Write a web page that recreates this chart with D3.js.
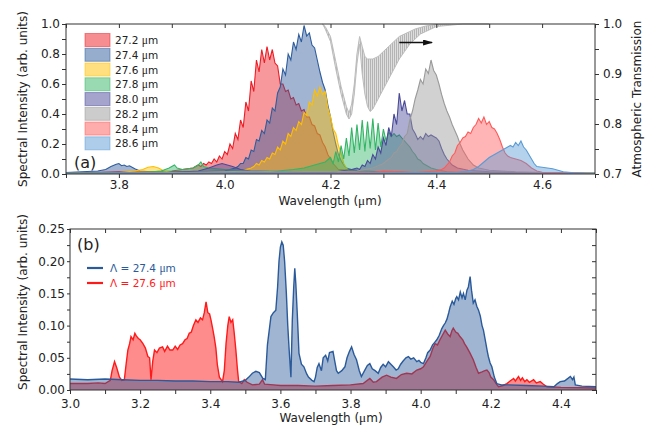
<!DOCTYPE html>
<html>
<head>
<meta charset="utf-8">
<script src="https://cdn.jsdelivr.net/npm/d3@7"></script>
<style>
body { margin: 0; background: #fff; }
text { font-family: "DejaVu Sans", sans-serif; fill: #222; }
</style>
</head>
<body>
<svg width="649" height="430"></svg>
<script>
//*
//* Data
//*

// panel (a): emission spectra, [wavelength um, intensity]
var s272 = [[3.70,0.01],[3.75,0.01],[3.80,0.015],[3.85,0.015],[3.90,0.02],[3.92,0.03],[3.94,0.04],
  [3.950,0.06],[3.955,0.05],[3.960,0.07],[3.965,0.06],[3.970,0.08],[3.975,0.07],[3.980,0.10],[3.985,0.08],
  [3.990,0.12],[3.995,0.10],[4.000,0.15],[4.005,0.13],[4.010,0.20],[4.015,0.17],[4.020,0.27],[4.025,0.23],
  [4.030,0.36],[4.035,0.31],[4.040,0.48],[4.045,0.42],[4.050,0.62],[4.055,0.55],[4.060,0.76],[4.065,0.68],
  [4.070,0.83],[4.075,0.74],[4.080,0.85],[4.085,0.76],[4.090,0.83],[4.095,0.74],[4.100,0.72],[4.105,0.60],
  [4.110,0.60],[4.115,0.55],[4.120,0.56],[4.125,0.50],[4.130,0.51],[4.135,0.46],[4.140,0.47],[4.145,0.42],
  [4.150,0.43],[4.155,0.38],[4.160,0.38],[4.165,0.33],[4.170,0.32],[4.175,0.27],[4.180,0.26],[4.185,0.21],
  [4.190,0.18],[4.195,0.13],[4.200,0.10],[4.205,0.07],[4.210,0.05],[4.215,0.03],[4.220,0.03],
  [4.25,0.02],[4.30,0.015],[4.35,0.01],[4.40,0.01],[4.50,0.008],[4.60,0.005],[4.70,0.005]];

var s274 = [[3.70,0.01],[3.73,0.015],[3.76,0.02],[3.775,0.03],[3.785,0.05],[3.795,0.065],[3.80,0.07],[3.805,0.055],
  [3.81,0.06],[3.815,0.05],[3.82,0.055],[3.83,0.035],[3.84,0.02],[3.86,0.015],[3.90,0.015],[3.95,0.015],
  [4.00,0.02],[4.01,0.03],[4.02,0.04],
  [4.025,0.05],[4.030,0.07],[4.035,0.07],[4.040,0.11],[4.045,0.10],[4.050,0.16],[4.055,0.15],[4.060,0.23],
  [4.065,0.22],[4.070,0.29],[4.075,0.27],[4.080,0.36],[4.085,0.34],[4.090,0.44],[4.095,0.42],[4.100,0.54],
  [4.105,0.58],[4.110,0.70],[4.115,0.66],[4.120,0.80],[4.125,0.76],[4.130,0.88],[4.135,0.83],[4.140,0.93],
  [4.145,0.88],[4.150,0.99],[4.155,0.92],[4.160,0.94],[4.165,0.86],[4.170,0.84],[4.175,0.76],[4.180,0.68],
  [4.185,0.61],[4.190,0.56],[4.195,0.46],[4.200,0.38],[4.205,0.28],[4.210,0.20],[4.215,0.13],[4.220,0.09],
  [4.225,0.06],[4.230,0.04],[4.240,0.03],
  [4.26,0.02],[4.30,0.015],[4.35,0.01],[4.40,0.01],[4.50,0.01],[4.60,0.008],[4.70,0.005]];

var s276 = [[3.70,0.005],[3.80,0.01],[3.83,0.02],[3.845,0.03],[3.855,0.045],[3.865,0.05],[3.875,0.04],[3.885,0.02],
  [3.90,0.01],[3.95,0.01],[4.00,0.015],[4.03,0.02],[4.05,0.04],
  [4.055,0.05],[4.060,0.07],[4.065,0.06],[4.070,0.09],[4.075,0.08],[4.080,0.11],[4.085,0.10],[4.090,0.14],
  [4.095,0.13],[4.100,0.18],[4.105,0.16],[4.110,0.22],[4.115,0.20],[4.120,0.27],[4.125,0.25],[4.130,0.31],
  [4.135,0.29],[4.140,0.35],[4.145,0.33],[4.150,0.41],[4.155,0.39],[4.160,0.48],[4.165,0.46],[4.170,0.56],
  [4.175,0.52],[4.180,0.58],[4.185,0.53],[4.190,0.55],[4.195,0.44],[4.200,0.38],[4.205,0.30],[4.210,0.27],
  [4.215,0.19],[4.220,0.14],[4.225,0.07],[4.230,0.04],[4.235,0.02],
  [4.25,0.015],[4.30,0.01],[4.40,0.008],[4.50,0.005],[4.70,0.005]];

var s278 = [[3.70,0.005],[3.85,0.01],[3.88,0.02],[3.895,0.04],[3.905,0.06],[3.91,0.04],[3.92,0.03],[3.94,0.04],
  [3.95,0.06],[3.955,0.08],[3.96,0.05],[3.97,0.04],[4.00,0.03],[4.05,0.02],[4.10,0.02],[4.13,0.03],[4.15,0.04],
  [4.17,0.06],[4.19,0.08],
  [4.200,0.11],[4.205,0.07],[4.210,0.15],[4.215,0.08],[4.220,0.19],[4.225,0.10],[4.230,0.24],[4.235,0.12],
  [4.240,0.31],[4.245,0.14],[4.250,0.33],[4.255,0.16],[4.260,0.36],[4.265,0.15],[4.270,0.35],[4.275,0.17],
  [4.280,0.37],[4.285,0.16],[4.290,0.34],[4.295,0.18],[4.300,0.30],[4.305,0.22],[4.310,0.28],[4.315,0.25],
  [4.320,0.27],[4.325,0.25],[4.330,0.26],[4.335,0.24],[4.340,0.22],[4.345,0.20],[4.350,0.18],[4.355,0.15],
  [4.360,0.13],[4.365,0.10],[4.370,0.09],[4.375,0.07],[4.380,0.06],
  [4.39,0.04],[4.40,0.03],[4.42,0.015],[4.45,0.01],[4.55,0.005],[4.70,0.005]];

var s280 = [[3.70,0.005],[3.90,0.01],[3.95,0.02],[3.97,0.04],[3.985,0.06],[3.995,0.07],[4.005,0.06],[4.015,0.05],
  [4.03,0.03],[4.05,0.02],[4.10,0.015],[4.15,0.01],[4.20,0.01],[4.22,0.02],[4.24,0.03],
  [4.250,0.04],[4.255,0.03],[4.260,0.06],[4.265,0.05],[4.270,0.09],[4.275,0.07],[4.280,0.13],[4.285,0.10],
  [4.290,0.18],[4.295,0.14],[4.300,0.24],[4.305,0.19],[4.310,0.31],[4.315,0.25],[4.320,0.40],[4.325,0.33],
  [4.330,0.54],[4.335,0.42],[4.340,0.49],[4.345,0.40],[4.350,0.40],[4.355,0.30],[4.360,0.27],[4.365,0.23],
  [4.370,0.25],[4.375,0.23],[4.380,0.27],[4.385,0.25],[4.390,0.26],[4.395,0.25],[4.400,0.24],[4.405,0.22],
  [4.410,0.17],[4.415,0.13],[4.420,0.10],[4.425,0.08],[4.430,0.06],[4.440,0.04],
  [4.46,0.025],[4.50,0.015],[4.55,0.01],[4.60,0.005],[4.70,0.003]];

var s282 = [[3.70,0.005],[3.90,0.01],[4.00,0.015],[4.05,0.02],[4.10,0.015],[4.20,0.015],[4.25,0.02],[4.28,0.04],
  [4.30,0.07],
  [4.310,0.10],[4.315,0.11],[4.320,0.14],[4.325,0.15],[4.330,0.18],[4.335,0.20],[4.340,0.25],[4.345,0.27],
  [4.350,0.36],[4.355,0.42],[4.360,0.50],[4.365,0.56],[4.370,0.63],[4.375,0.60],[4.380,0.70],[4.385,0.67],
  [4.390,0.76],[4.395,0.69],[4.400,0.66],[4.405,0.60],[4.410,0.53],[4.415,0.47],[4.420,0.42],[4.425,0.38],
  [4.430,0.33],[4.435,0.29],[4.440,0.25],[4.445,0.20],[4.450,0.16],[4.455,0.13],[4.460,0.10],[4.470,0.06],
  [4.48,0.04],[4.50,0.025],[4.55,0.015],[4.60,0.01],[4.70,0.005]];

var s284 = [[3.70,0.003],[4.20,0.005],[4.28,0.01],[4.30,0.02],[4.33,0.015],[4.36,0.01],[4.38,0.015],[4.40,0.02],
  [4.41,0.03],
  [4.415,0.04],[4.420,0.06],[4.425,0.08],[4.430,0.12],[4.435,0.14],[4.440,0.19],[4.445,0.21],[4.450,0.24],
  [4.455,0.25],[4.460,0.28],[4.465,0.27],[4.470,0.31],[4.475,0.33],[4.480,0.37],[4.485,0.34],[4.490,0.38],
  [4.495,0.33],[4.500,0.35],[4.505,0.31],[4.510,0.30],[4.515,0.27],[4.520,0.23],[4.525,0.18],[4.530,0.14],
  [4.535,0.12],[4.540,0.11],[4.550,0.10],[4.560,0.09],[4.570,0.07],[4.580,0.04],[4.590,0.02],
  [4.60,0.012],[4.65,0.006],[4.70,0.003]];

var s286 = [[3.70,0.003],[4.20,0.005],[4.35,0.008],[4.40,0.01],[4.44,0.012],[4.46,0.02],
  [4.470,0.03],[4.480,0.05],[4.490,0.08],[4.500,0.11],[4.510,0.13],[4.520,0.15],[4.530,0.17],[4.535,0.18],
  [4.540,0.19],[4.545,0.18],[4.550,0.21],[4.555,0.19],[4.560,0.22],[4.565,0.18],[4.570,0.16],[4.575,0.13],
  [4.580,0.10],[4.585,0.07],[4.590,0.05],[4.600,0.045],[4.610,0.04],[4.620,0.035],[4.630,0.025],[4.640,0.015],
  [4.650,0.012],[4.660,0.008],[4.680,0.004],[4.700,0.003]];

var labelsA = ["27.2 μm", "27.4 μm", "27.6 μm", "27.8 μm", "28.0 μm", "28.2 μm", "28.4 μm", "28.6 μm"];
var colorsA = ["#ee1c24", "#2e5c9c", "#ffbf00", "#33b566", "#4a4a99", "#9a9a9a", "#ff5a5a", "#5b9bd5"];

// atmospheric transmission, upper / lower fringe envelope
var transWl = [4.185, 4.19, 4.20, 4.21, 4.22, 4.23, 4.235, 4.24, 4.245, 4.25, 4.255, 4.26, 4.265, 4.27, 4.275,
  4.28, 4.29, 4.30, 4.31, 4.32, 4.33, 4.34, 4.35, 4.36, 4.37, 4.38, 4.40, 4.45, 4.50];
var transUp = [1.0, 0.995, 0.975, 0.925, 0.875, 0.835, 0.822, 0.84, 0.88, 0.94, 0.975, 0.955, 0.935, 0.93,
  0.93, 0.93, 0.935, 0.945, 0.955, 0.965, 0.975, 0.98, 0.985, 0.99, 0.993, 0.996, 0.999, 1.0, 1.0];
var transLo = [1.0, 0.99, 0.965, 0.91, 0.86, 0.82, 0.81, 0.82, 0.86, 0.92, 0.96, 0.90, 0.86, 0.835,
  0.825, 0.83, 0.85, 0.87, 0.89, 0.91, 0.93, 0.945, 0.96, 0.97, 0.98, 0.985, 0.995, 1.0, 1.0];

// panel (b): two periods
var b274 = [[3.00,0.017],[3.05,0.016],[3.10,0.017],[3.15,0.016],[3.20,0.015],[3.25,0.015],[3.30,0.014],[3.35,0.014],
  [3.40,0.013],[3.45,0.013],[3.48,0.012],[3.50,0.015],[3.51,0.02],[3.52,0.026],[3.53,0.029],[3.54,0.027],[3.55,0.018],
  [3.557,0.016],[3.563,0.07],[3.573,0.114],[3.58,0.12],[3.587,0.124],[3.592,0.16],[3.596,0.2],[3.60,0.222],
  [3.604,0.23],[3.608,0.225],[3.612,0.2],[3.617,0.15],[3.621,0.1],[3.625,0.062],[3.63,0.02],[3.634,0.109],
  [3.638,0.16],[3.641,0.189],[3.644,0.165],[3.648,0.12],[3.653,0.057],[3.66,0.04],[3.667,0.036],[3.675,0.025],
  [3.68,0.02],[3.69,0.015],[3.696,0.013],[3.70,0.02],[3.705,0.035],[3.71,0.041],[3.717,0.03],[3.722,0.05],
  [3.729,0.054],[3.735,0.045],[3.74,0.058],[3.75,0.06],[3.755,0.045],[3.76,0.03],[3.765,0.026],[3.775,0.03],
  [3.784,0.036],[3.79,0.05],[3.797,0.06],[3.803,0.067],[3.81,0.055],[3.817,0.047],[3.825,0.03],[3.831,0.021],
  [3.84,0.03],[3.848,0.038],[3.855,0.041],[3.862,0.033],[3.87,0.03],[3.879,0.026],[3.886,0.035],[3.893,0.04],
  [3.90,0.036],[3.908,0.044],[3.915,0.04],[3.922,0.036],[3.93,0.031],[3.936,0.033],[3.943,0.04],[3.95,0.045],
  [3.958,0.05],[3.965,0.052],[3.972,0.048],[3.98,0.05],[3.989,0.044],[3.995,0.046],[4.00,0.043],[4.008,0.041],
  [4.015,0.05],[4.02,0.058],[4.027,0.062],[4.034,0.07],[4.04,0.074],[4.046,0.078],[4.053,0.085],[4.06,0.095],
  [4.065,0.1],[4.07,0.104],[4.075,0.11],[4.08,0.12],[4.084,0.129],[4.09,0.138],[4.095,0.133],[4.10,0.142],
  [4.103,0.145],[4.108,0.14],[4.113,0.152],[4.118,0.143],[4.122,0.15],[4.127,0.14],[4.132,0.155],[4.136,0.16],
  [4.141,0.176],[4.145,0.155],[4.15,0.135],[4.155,0.14],[4.16,0.13],[4.165,0.124],[4.17,0.115],[4.175,0.1],
  [4.179,0.093],[4.185,0.075],[4.19,0.06],[4.193,0.052],[4.198,0.042],[4.203,0.036],[4.21,0.02],[4.217,0.01],
  [4.23,0.008],[4.25,0.008],[4.30,0.007],[4.35,0.006],[4.38,0.005],[4.39,0.01],[4.398,0.013],[4.41,0.014],
  [4.42,0.018],[4.427,0.021],[4.433,0.016],[4.437,0.02],[4.441,0.008],[4.46,0.006],[4.50,0.005]];

var b276 = [[3.00,0.01],[3.05,0.01],[3.08,0.011],[3.10,0.01],[3.115,0.015],[3.12,0.03],[3.127,0.044],[3.133,0.035],
  [3.141,0.02],[3.148,0.015],[3.155,0.016],[3.16,0.04],[3.165,0.062],[3.17,0.072],[3.174,0.083],[3.18,0.078],
  [3.185,0.088],[3.189,0.084],[3.195,0.08],[3.20,0.078],[3.208,0.072],[3.215,0.065],[3.222,0.052],[3.227,0.05],
  [3.231,0.016],[3.236,0.045],[3.241,0.062],[3.248,0.058],[3.255,0.065],[3.264,0.067],[3.27,0.06],[3.278,0.068],
  [3.285,0.062],[3.293,0.062],[3.30,0.068],[3.307,0.063],[3.314,0.07],[3.321,0.072],[3.328,0.078],[3.334,0.08],
  [3.34,0.088],[3.346,0.09],[3.352,0.1],[3.359,0.109],[3.365,0.105],[3.372,0.112],[3.378,0.109],[3.383,0.12],
  [3.388,0.137],[3.393,0.12],[3.398,0.118],[3.402,0.109],[3.407,0.095],[3.411,0.083],[3.416,0.065],[3.42,0.04],
  [3.426,0.02],[3.435,0.013],[3.44,0.03],[3.445,0.072],[3.45,0.1],[3.454,0.114],[3.459,0.105],[3.464,0.109],
  [3.468,0.09],[3.473,0.062],[3.477,0.035],[3.481,0.013],[3.49,0.01],[3.497,0.016],[3.505,0.012],[3.52,0.008],
  [3.54,0.009],[3.549,0.016],[3.555,0.009],[3.58,0.008],[3.60,0.007],[3.65,0.007],[3.70,0.006],[3.75,0.007],
  [3.80,0.008],[3.836,0.01],[3.855,0.018],[3.865,0.012],[3.874,0.013],[3.89,0.02],[3.903,0.023],[3.915,0.02],
  [3.931,0.018],[3.945,0.024],[3.96,0.026],[3.975,0.025],[3.989,0.031],[4.00,0.033],[4.008,0.036],[4.018,0.045],
  [4.027,0.052],[4.035,0.065],[4.041,0.072],[4.048,0.07],[4.055,0.078],[4.062,0.085],[4.07,0.093],[4.077,0.087],
  [4.084,0.083],[4.089,0.092],[4.093,0.096],[4.10,0.09],[4.106,0.088],[4.112,0.083],[4.12,0.078],[4.125,0.072],
  [4.131,0.067],[4.14,0.058],[4.15,0.047],[4.158,0.035],[4.165,0.026],[4.175,0.028],[4.183,0.03],[4.189,0.031],
  [4.195,0.027],[4.20,0.02],[4.208,0.016],[4.215,0.01],[4.222,0.005],[4.235,0.007],[4.246,0.01],[4.255,0.014],
  [4.265,0.018],[4.27,0.014],[4.279,0.021],[4.285,0.015],[4.29,0.019],[4.297,0.013],[4.303,0.016],[4.31,0.012],
  [4.322,0.016],[4.33,0.011],[4.341,0.013],[4.35,0.009],[4.36,0.005],[4.40,0.004],[4.50,0.003]];

var labelsB = ["27.6 μm", "27.4 μm"];
var colorsB = ["#ff1a1a", "#2b5a9a"];

var ticksAx = d3.range(37, 48).map(function(d) { return d / 10; });
var ticksAy = d3.range(0, 11).map(function(d) { return d / 10; });
var ticksAt = d3.range(14, 21).map(function(d) { return d / 20; });
var ticksBx = d3.range(30, 46).map(function(d) { return d / 10; });
var ticksBy = d3.range(0, 11).map(function(d) { return d / 40; });

//*
//* Drawing
//*

var svg = d3.select("svg");
var defs = svg.append("defs");

var comb = defs.append("pattern")
  .attr("id", "comb")
  .attr("patternUnits", "userSpaceOnUse")
  .attr("width", 2)
  .attr("height", 4);
comb.append("rect").attr("width", 2).attr("height", 4).attr("fill", "#dedede");
comb.append("rect").attr("width", 1).attr("height", 4).attr("fill", "#b4b4b4");

defs.append("marker")
  .attr("id", "arrow")
  .attr("viewBox", "0 0 10 6")
  .attr("refX", 9)
  .attr("refY", 3)
  .attr("markerWidth", 10)
  .attr("markerHeight", 6)
  .attr("markerUnits", "userSpaceOnUse")
  .attr("orient", "auto")
  .append("path")
  .attr("d", "M0,0 L10,3 L0,6 z")
  .attr("fill", "#111");

var xA = d3.scaleLinear().domain([3.7, 4.7]).range([66, 595]);
var yA = d3.scaleLinear().domain([0, 1]).range([174, 24]);
var yT = d3.scaleLinear().domain([0.7, 1]).range([174, 24]);
var xB = d3.scaleLinear().domain([3.0, 4.5]).range([70, 596]);
var yB = d3.scaleLinear().domain([0, 0.25]).range([390, 229]);

function even(d) { return Math.round(d * 10) % 2 === 0; }

function unitText(sel, prefix, suffix) {
  sel.append("tspan").text(prefix);
  sel.append("tspan").attr("font-family", "Liberation Serif").attr("font-size", "1.1em").text("μ");
  sel.append("tspan").text("m" + suffix);
}

/* panel (a) transmission */
var transData = transWl.map(function(w, i) { return [w, transUp[i], transLo[i]]; });
svg.append("path")
  .datum(transData)
  .attr("d", d3.area()
    .x(function(d) { return xA(d[0]); })
    .y0(function(d) { return yT(d[2]); })
    .y1(function(d) { return yT(d[1]); }))
  .attr("fill", "url(#comb)");
[1, 2].forEach(function(k) {
  svg.append("path")
    .datum(transData)
    .attr("d", d3.line()
      .x(function(d) { return xA(d[0]); })
      .y(function(d) { return yT(d[k]); }))
    .attr("fill", "none")
    .attr("stroke", "#bdbdbd")
    .attr("stroke-width", 1);
});

/* panel (a) spectra */
var seriesA = [s272, s274, s276, s278, s280, s282, s284, s286];
var areaA = d3.area()
  .x(function(d) { return xA(d[0]); })
  .y0(yA(0))
  .y1(function(d) { return yA(d[1]); });
var lineA = d3.line()
  .x(function(d) { return xA(d[0]); })
  .y(function(d) { return yA(d[1]); });

seriesA.forEach(function(s, i) {
  svg.append("path").datum(s).attr("d", areaA)
    .attr("fill", colorsA[i]).attr("fill-opacity", 0.45);
  svg.append("path").datum(s).attr("d", lineA)
    .attr("fill", "none").attr("stroke", colorsA[i]).attr("stroke-width", 1.1);
});

/* arrow toward transmission axis */
svg.append("line")
  .attr("x1", xA(4.33)).attr("x2", xA(4.392))
  .attr("y1", yT(0.963)).attr("y2", yT(0.963))
  .attr("stroke", "#111").attr("stroke-width", 1.3)
  .attr("marker-end", "url(#arrow)");

/* panel (a) frame and axes */
svg.append("rect")
  .attr("x", 66).attr("y", 24).attr("width", 529).attr("height", 150)
  .attr("fill", "none").attr("stroke", "#333");

function styleAxis(g) {
  g.select(".domain").remove();
  g.selectAll("line").attr("stroke", "#333");
  g.selectAll("text").attr("font-size", 12).attr("font-family", "DejaVu Sans").attr("fill", "#222");
}

svg.append("g").attr("transform", "translate(0,174)")
  .call(d3.axisBottom(xA).tickValues(ticksAx).tickSize(4).tickPadding(2)
    .tickFormat(function(d) { return (even(d) && d > 3.75) ? d3.format(".1f")(d) : ""; }))
  .call(styleAxis);
svg.append("g").attr("transform", "translate(0,24)")
  .call(d3.axisTop(xA).tickValues(ticksAx).tickSize(-4).tickFormat(""))
  .call(styleAxis);
svg.append("g").attr("transform", "translate(66,0)")
  .call(d3.axisLeft(yA).tickValues(ticksAy).tickSize(4).tickPadding(2)
    .tickFormat(function(d) { return even(d) ? d3.format(".1f")(d) : ""; }))
  .call(styleAxis);
svg.append("g").attr("transform", "translate(595,0)")
  .call(d3.axisRight(yT).tickValues(ticksAt).tickSize(4).tickPadding(4)
    .tickFormat(function(d) { return Math.round(d * 20) % 2 === 0 ? d3.format(".1f")(d) : ""; }))
  .call(styleAxis);

svg.append("text").attr("x", 330).attr("y", 205).attr("text-anchor", "middle").attr("font-size", 12)
  .call(unitText, "Wavelength (", ")");

svg.append("text").attr("transform", "translate(27,99) rotate(-90)").attr("text-anchor", "middle")
  .attr("font-size", 12).text("Spectral Intensity (arb. units)");
svg.append("text").attr("transform", "translate(641,99) rotate(-90)").attr("text-anchor", "middle")
  .attr("font-size", 12).text("Atmospheric Transmission");
svg.append("text").attr("x", 74).attr("y", 168).attr("font-size", 16).text("(a)");

/* legend (a) */
var legA = svg.append("g").selectAll("g").data(labelsA).enter().append("g")
  .attr("transform", function(d, i) { return "translate(85," + (40 + i * 14.76) + ")"; });
legA.append("rect")
  .attr("x", 0).attr("y", -6.5).attr("width", 25).attr("height", 13)
  .attr("fill", function(d, i) { return colorsA[i]; }).attr("fill-opacity", 0.5)
  .attr("stroke", function(d, i) { return colorsA[i]; }).attr("stroke-opacity", 0.5);
legA.append("text").attr("x", 30).attr("y", 4).attr("font-size", 10.5)
  .each(function(d) {
    d3.select(this).call(unitText, d.split(" ")[0] + " ", "");
  });

/* panel (b) */
var seriesB = [b276, b274];
var areaB = d3.area()
  .x(function(d) { return xB(d[0]); })
  .y0(yB(0))
  .y1(function(d) { return yB(d[1]); });
var lineB = d3.line()
  .x(function(d) { return xB(d[0]); })
  .y(function(d) { return yB(d[1]); });

seriesB.forEach(function(s, i) {
  svg.append("path").datum(s).attr("d", areaB)
    .attr("fill", colorsB[i]).attr("fill-opacity", i === 0 ? 0.5 : 0.45);
  svg.append("path").datum(s).attr("d", lineB)
    .attr("fill", "none").attr("stroke", colorsB[i]).attr("stroke-width", 1.4);
});

svg.append("rect")
  .attr("x", 70).attr("y", 229).attr("width", 526).attr("height", 161)
  .attr("fill", "none").attr("stroke", "#333");

svg.append("g").attr("transform", "translate(0,390)")
  .call(d3.axisBottom(xB).tickValues(ticksBx).tickSize(4).tickPadding(5)
    .tickFormat(function(d) { return even(d) ? d3.format(".1f")(d) : ""; }))
  .call(styleAxis);
svg.append("g").attr("transform", "translate(0,229)")
  .call(d3.axisTop(xB).tickValues(ticksBx).tickSize(-4).tickFormat(""))
  .call(styleAxis);
svg.append("g").attr("transform", "translate(70,0)")
  .call(d3.axisLeft(yB).tickValues(ticksBy).tickSize(3).tickPadding(2)
    .tickFormat(function(d) { return Math.round(d * 40) % 2 === 0 ? d3.format(".2f")(d) : ""; }))
  .call(styleAxis);
svg.append("g").attr("transform", "translate(596,0)")
  .call(d3.axisRight(yB).tickValues(ticksBy).tickSize(-4).tickFormat(""))
  .call(styleAxis);

svg.append("text").attr("x", 331).attr("y", 422).attr("text-anchor", "middle").attr("font-size", 12)
  .call(unitText, "Wavelength (", ")");

svg.append("text").attr("transform", "translate(27,302) rotate(-90)").attr("text-anchor", "middle")
  .attr("font-size", 12).text("Spectral Intensity (arb. units)");
svg.append("text").attr("x", 77).attr("y", 250).attr("font-size", 16).text("(b)");

/* legend (b) */
var legB = svg.append("g").selectAll("g").data([1, 0]).enter().append("g")
  .attr("transform", function(d, i) { return "translate(87," + (268 + i * 15) + ")"; });
legB.append("line").attr("x1", 0).attr("x2", 16).attr("y1", 0).attr("y2", 0)
  .attr("stroke", function(d) { return colorsB[d]; }).attr("stroke-width", 2.2);
legB.append("text").attr("x", 23).attr("y", 4).attr("font-size", 10.5)
  .style("fill", function(d) { return colorsB[d]; })
  .each(function(d) {
    d3.select(this).call(unitText, "Λ = " + labelsB[d].split(" ")[0] + " ", "");
  });
</script>
</body>
</html>
